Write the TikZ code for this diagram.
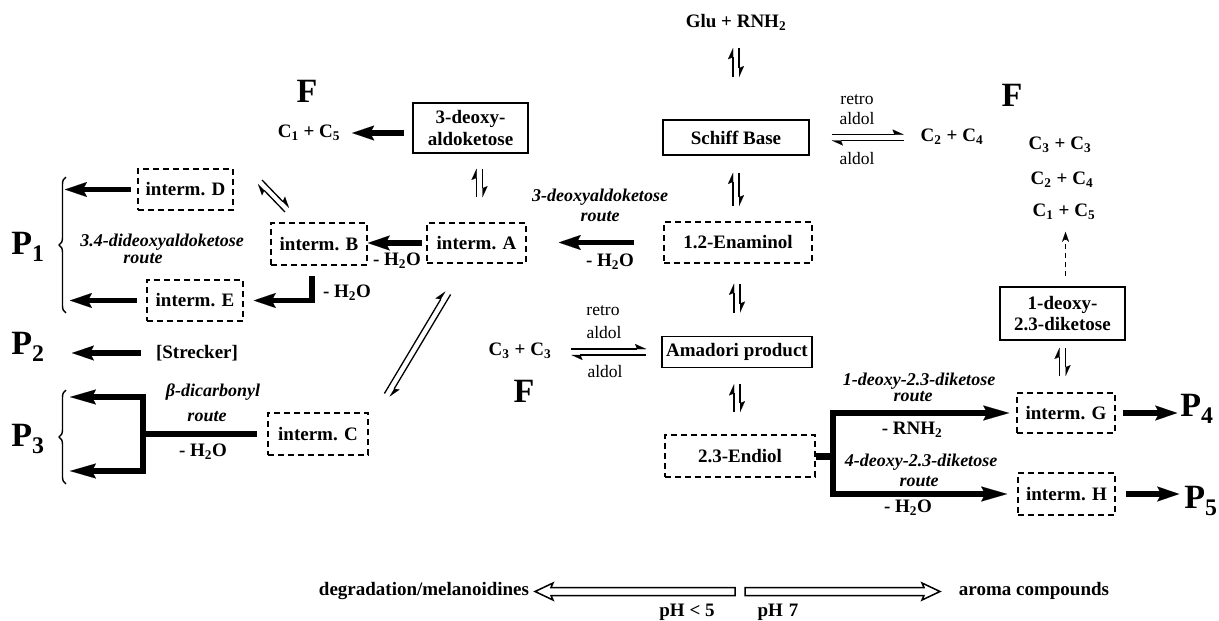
\documentclass[tikz,border=0pt]{standalone}
\usepackage{fontspec}
\setmainfont{Liberation Serif}
\usetikzlibrary{arrows.meta,decorations.pathreplacing,calc}
\begin{document}
\begin{tikzpicture}[x=1pt,y=-1pt,
  lbl/.style={font=\bfseries\fontsize{19}{21.5}\selectfont, inner sep=0pt, align=center},
  rte/.style={font=\bfseries\itshape\fontsize{18}{20}\selectfont, inner sep=0pt, align=center},
  reg/.style={font=\fontsize{17.5}{19}\selectfont, inner sep=0pt},
  bigl/.style={font=\bfseries\fontsize{34}{36}\selectfont, inner sep=0pt},
  sbox/.style={draw, line width=1.8pt, lbl},
  dbox/.style={draw, line width=1.6pt, dash pattern=on 6pt off 4pt, lbl},
  fat/.style={line width=5.5pt, -{Stealth[length=22pt,width=15pt,inset=4pt,line width=0.01pt]}},
  fatb/.style={line width=5.5pt, {Stealth[length=26pt,width=15pt,inset=4pt,line width=0.01pt]}-{Stealth[length=26pt,width=15pt,inset=4pt,line width=0.01pt]}},
  fatln/.style={line width=6pt},
  eqh/.style={line width=1.3pt, -{Stealth[left,length=11pt,width=10pt,inset=2pt,line width=0.01pt]}},
  dasharr/.style={line width=1.3pt, dash pattern=on 5pt off 4pt, -{Stealth[length=10pt,width=7pt,line width=0.01pt]}},
  brc/.style={decorate, decoration={brace, amplitude=7pt}, line width=1.4pt},
  openarr/.style={line width=1.5pt, fill=white},
]
\fill[white] (0,0) rectangle (1219,621);
\useasboundingbox (0,0) rectangle (1219,621);

% boxes
\node[sbox, minimum width=115pt, minimum height=50pt] (deoxy) at (470.5,128) {3-deoxy-\\aldoketose};
\node[sbox, minimum width=146pt, minimum height=35pt] (schiff) at (736,137.5) {Schiff Base};
\node[dbox, minimum width=148pt, minimum height=41pt] (enam) at (738,242.5) {1.2-Enaminol};
\node[sbox, minimum width=150pt, minimum height=31pt] (amad) at (737,352) {Amadori product};
\node[dbox, minimum width=150pt, minimum height=42pt] (endiol) at (740,456) {2.3-Endiol};
\node[dbox, minimum width=99pt, minimum height=40pt] (intA) at (476.5,243) {interm. A};
\node[dbox, minimum width=96pt, minimum height=42pt] (intB) at (319,244) {interm. B};
\node[dbox, minimum width=95pt, minimum height=41pt] (intD) at (185.5,189.5) {interm. D};
\node[dbox, minimum width=96pt, minimum height=41pt] (intE) at (195,300.5) {interm. E};
\node[dbox, minimum width=100pt, minimum height=42pt] (intC) at (318,434) {interm. C};
\node[dbox, minimum width=98pt, minimum height=40pt] (intG) at (1066,413) {interm. G};
\node[dbox, minimum width=97pt, minimum height=42pt] (intH) at (1066.5,494) {interm. H};
\node[sbox, minimum width=125pt, minimum height=53pt] (dik) at (1062.5,313.5) {1-deoxy-\\2.3-diketose};

% texts
\node[lbl] (glu) at (736,22) {Glu + RNH\textsubscript{2}};
\node[bigl] (F1) at (307,91) {F};
\node[bigl] (F2) at (1012,95) {F};
\node[bigl] (F3) at (524,391) {F};
\node[lbl] (c15) at (309,133) {C\textsubscript{1} + C\textsubscript{5}};
\node[lbl] (c24) at (952,137) {C\textsubscript{2}\hspace{5pt}+\hspace{5pt}C\textsubscript{4}};
\node[lbl] (l33) at (1060,145) {C\textsubscript{3}\hspace{5pt}+\hspace{5pt}C\textsubscript{3}};
\node[lbl] (l24) at (1062,180) {C\textsubscript{2}\hspace{5pt}+\hspace{5pt}C\textsubscript{4}};
\node[lbl] (l15) at (1064,212) {C\textsubscript{1}\hspace{5pt}+\hspace{5pt}C\textsubscript{5}};
\node[reg] (rt1) at (857,100) {retro};
\node[reg] (al1) at (857,119) {aldol};
\node[reg] (al1b) at (857,159) {aldol};
\node[reg] (rt2) at (603,311) {retro};
\node[reg] (al2) at (604,333) {aldol};
\node[reg] (al2b) at (605,372) {aldol};
\node[lbl] (c33) at (520,351) {C\textsubscript{3}\hspace{5pt}+\hspace{5pt}C\textsubscript{3}};
\node[rte] (r3d) at (600,205) {3-deoxyaldoketose\\route};
\node[lbl] (w1) at (610,262) {- H\textsubscript{2}O};
\node[lbl] (w2) at (397,261) {- H\textsubscript{2}O};
\node[rte] (r34) at (162,242) {3.4-dideoxyaldoketose};
\node[rte] (r34b) at (143,259) {route};
\node[lbl] (w3) at (347,293) {- H\textsubscript{2}O};
\node[bigl] (P1) at (28,247) {P\textsubscript{1}};
\node[bigl] (P2) at (28,347) {P\textsubscript{2}};
\node[bigl] (P3) at (28,439) {P\textsubscript{3}};
\node[bigl] (P4) at (1197,409) {P\textsubscript{4}};
\node[bigl] (P5) at (1201,501) {P\textsubscript{5}};
\node[lbl] (strk) at (197,353) {[Strecker]};
\node[rte] (bdc) at (213,392) {β-dicarbonyl};
\node[rte] (bdcr) at (207,417) {route};
\node[lbl] (w4) at (203,452) {- H\textsubscript{2}O};
\node[rte] (r1d) at (919,381) {1-deoxy-2.3-diketose};
\node[rte] (r1db) at (913,397) {route};
\node[lbl] (rnh) at (912,430) {- RNH\textsubscript{2}};
\node[rte] (r4d) at (921,462) {4-deoxy-2.3-diketose};
\node[rte] (r4db) at (919,482) {route};
\node[lbl] (w5) at (908,508) {- H\textsubscript{2}O};
\node[lbl] (deg) at (424,591) {degradation/melanoidines};
\node[lbl] (aro) at (1034,591) {aroma compounds};
\node[lbl] (ph5) at (687,612) {pH < 5};
\node[lbl] (ph7) at (778,612) {pH\hspace{6pt}7};

% equilibria (vertical)
\draw[eqh, shorten <=42pt, shorten >=18pt] ([xshift=-3pt]schiff.north) -- ([xshift=-3pt]schiff.north |- glu.south);
\draw[eqh, shorten <=18pt, shorten >=42pt] ([xshift=3pt]schiff.north |- glu.south) -- ([xshift=3pt]schiff.north);
\draw[eqh, shorten <=15pt, shorten >=17pt] ([xshift=-3pt]schiff.south |- enam.north) -- ([xshift=-3pt]schiff.south);
\draw[eqh, shorten <=17pt, shorten >=15pt] ([xshift=3pt]schiff.south) -- ([xshift=3pt]schiff.south |- enam.north);
\draw[eqh, shorten <=23pt, shorten >=20pt] ([xshift=-3pt]amad.north) -- ([xshift=-3pt]amad.north |- enam.south);
\draw[eqh, shorten <=20pt, shorten >=23pt] ([xshift=3pt]amad.north |- enam.south) -- ([xshift=3pt]amad.north);
\draw[eqh, shorten <=22pt, shorten >=16pt] ([xshift=-3pt]amad.south |- endiol.north) -- ([xshift=-3pt]amad.south);
\draw[eqh, shorten <=16pt, shorten >=22pt] ([xshift=3pt]amad.south) -- ([xshift=3pt]amad.south |- endiol.north);
\draw[eqh, shorten <=25pt, shorten >=15pt] ([xshift=0pt]intA.north) -- ([xshift=0pt]intA.north |- deoxy.south);
\draw[eqh, shorten <=15pt, shorten >=25pt] ([xshift=6pt]intA.north |- deoxy.south) -- ([xshift=6pt]intA.north);
\draw[eqh, shorten <=16pt, shorten >=7pt] ([xshift=-3pt]dik.south |- intG.north) -- ([xshift=-3pt]dik.south);
\draw[eqh, shorten <=7pt, shorten >=16pt] ([xshift=3pt]dik.south) -- ([xshift=3pt]dik.south |- intG.north);

% equilibria (horizontal)
\draw[eqh, shorten <=22pt, shorten >=17pt] ([yshift=3pt]schiff.east) -- ([yshift=3pt]schiff.east -| c24.west);
\draw[eqh, shorten <=17pt, shorten >=22pt] ([yshift=-3pt]schiff.east -| c24.west) -- ([yshift=-3pt]schiff.east);
\draw[eqh, shorten <=20pt, shorten >=15pt] ([yshift=3pt]amad.west -| c33.east) -- ([yshift=3pt]amad.west);
\draw[eqh, shorten <=15pt, shorten >=20pt] ([yshift=-3pt]amad.west) -- ([yshift=-3pt]amad.west -| c33.east);

% equilibria (diagonal)
\coordinate (dbA1) at (285,212); \coordinate (dbA2) at (258,184);
\coordinate (dbB1) at (262,180); \coordinate (dbB2) at (289,208);
\draw[eqh] (dbA1) -- (dbA2);
\draw[eqh] (dbB1) -- (dbB2);
\coordinate (acA1) at (384.4,393.5); \coordinate (acA2) at (445.4,291.5);
\coordinate (acB1) at (450.6,294.5); \coordinate (acB2) at (389.6,396.5);
\draw[eqh] (acA1) -- (acA2);
\draw[eqh] (acB1) -- (acB2);

% thick arrows
\draw[fat, shorten <=8pt, shorten >=12pt] (c15.east -| deoxy.west) -- (c15.east);
\draw[fat, shorten <=4pt] (intA.west) -- (intA.west -| intB.east);
\draw[fat, shorten <=29pt, shorten >=32pt] (enam.west) -- (enam.west -| intA.east);
\coordinate (xP1a) at (65,0); \coordinate (xP1b) at (70,0);
\draw[fat, shorten <=6pt] (intD.west) -- (intD.west -| xP1a);
\draw[fat, shorten <=9pt] (intE.west) -- (intE.west -| xP1b);
\draw[fat] ([xshift=-7pt,yshift=-10pt]intB.south) |- ([xshift=10pt]intE.east);
\coordinate (xP2) at (72,0);
\draw[fat, shorten <=15pt] (strk.west) -- (strk.west -| xP2);

% P3 route
\coordinate (p3t) at (70,397); \coordinate (p3tj) at (143,397);
\coordinate (p3bj) at (143,471); \coordinate (p3b) at (70,471);
\draw[fatln, shorten <=10pt] (intC.west) -- (intC.west -| p3tj);
\draw[fatb, line width=5.5pt] (p3t) -- (p3tj) -- (p3bj) -- (p3b);

% endiol routes
\coordinate (jE) at (833,0);
\draw[line width=7pt] (endiol.east) -- (endiol.east -| jE);
\draw[fatb, shorten <=7pt, shorten >=10pt] (intG.west) -- (intG.west -| jE) -- (intH.west -| jE) -- (intH.west);
\draw[fat, shorten <=7pt, shorten >=3pt] (intG.east) -- (intG.east -| P4.west);
\draw[fat, shorten <=10pt, shorten >=5pt] (intH.east) -- (intH.east -| P5.west);

% dashed
\draw[dasharr, shorten <=10pt, shorten >=12pt] ([xshift=3pt]dik.north) -- ([xshift=3pt]dik.north |- l15.south);

% braces
\draw[brc] (66,313) -- (66,177);
\draw[brc] (66,484) -- (66,390);

% pH arrows
\draw[openarr] (735,587.5) -- (551,587.5) -- (553,583) -- (535,591.5) -- (553,600) -- (551,595.5) -- (735,595.5) -- cycle;
\draw[openarr] (745,587.5) -- (924,587.5) -- (922,583) -- (940,591.5) -- (922,600) -- (924,595.5) -- (745,595.5) -- cycle;
\end{tikzpicture}
\end{document}
